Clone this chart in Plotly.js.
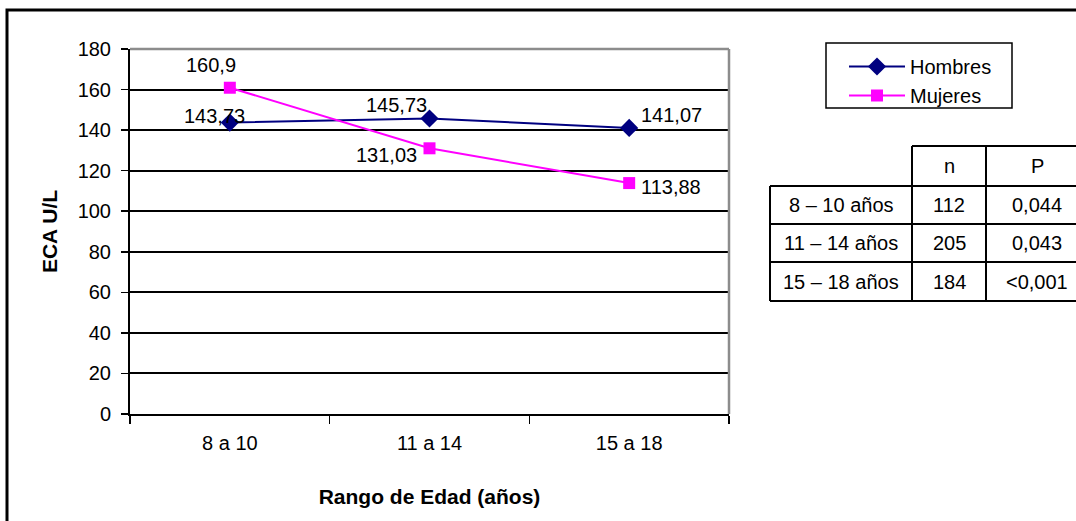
<!DOCTYPE html>
<html>
<head>
<meta charset="utf-8">
<script src="https://cdn.plot.ly/plotly-3.0.1.min.js"></script>
<style>
  html, body { margin: 0; padding: 0; background: #ffffff; }
  #chart { width: 1076px; height: 521px; }
</style>
</head>
<body>
<div id="chart"></div>
<script>
// ECA por rango de edad y sexo
const categories = ['8 a 10', '11 a 14', '15 a 18'];
const hombres = [143.73, 145.73, 141.07];
const mujeres = [160.9, 131.03, 113.88];

// Tabla lateral: tamaño de muestra y significación por grupo
const tableRows = ['8 – 10 años', '11 – 14 años', '15 – 18 años'];
const tableN = ['112', '205', '184'];
const tableP = ['0,044', '0,043', '<0,001'];
const tableHeader = ['n', 'P'];

const W = 1076, H = 521;
const M = { l: 130, r: 347, t: 49, b: 107 };
const plotW = W - M.l - M.r;
const plotH = H - M.t - M.b;
// pixel -> paper coordinates for decorations outside the plot area
const px = x => (x - M.l) / plotW;
const py = y => (H - M.b - y) / plotH;

const FONT = 'Liberation Sans, Arial, Helvetica, sans-serif';
const fmt = v => String(v).replace('.', ',');

const traces = [
  {
    x: categories, y: hombres, name: 'Hombres', type: 'scatter', mode: 'lines+markers',
    line: { color: '#000080', width: 2 },
    marker: { symbol: 'diamond', size: 14, color: '#000080' },
    hoverinfo: 'x+y'
  },
  {
    x: categories, y: mujeres, name: 'Mujeres', type: 'scatter', mode: 'lines+markers',
    line: { color: '#ff00ff', width: 2 },
    marker: { symbol: 'square', size: 12, color: '#ff00ff' },
    hoverinfo: 'x+y'
  }
];

// value label offsets (px) for each point
const hOff = [[-15, 7], [-33, 13], [42, 13]];
const mOff = [[-19, 23], [-43, -7], [42, -4]];

const annotations = [];
hombres.forEach((v, i) => annotations.push({
  x: categories[i], y: v, xref: 'x', yref: 'y', text: fmt(v), showarrow: false,
  xshift: hOff[i][0], yshift: hOff[i][1], font: { family: FONT, size: 20, color: '#000' }
}));
mujeres.forEach((v, i) => annotations.push({
  x: categories[i], y: v, xref: 'x', yref: 'y', text: fmt(v), showarrow: false,
  xshift: mOff[i][0], yshift: mOff[i][1], font: { family: FONT, size: 20, color: '#000' }
}));

// table geometry
const colX = [770, 912, 986, 1088];
const rowY = [146, 186, 224, 262, 301];
const shapes = [];
const ln = (x0, y0, x1, y1, color, width) => shapes.push({
  type: 'line', xref: 'paper', yref: 'paper',
  x0: px(x0), y0: py(y0), x1: px(x1), y1: py(y1),
  line: { color: color, width: width }
});

// outer frame
shapes.push({ type: 'rect', xref: 'paper', yref: 'paper',
  x0: px(7), y0: py(10), x1: px(1100), y1: py(540),
  line: { color: '#000', width: 3 }, layer: 'below' });
// plot area border (top and right)
ln(M.l, M.t, W - M.r, M.t, '#8c8c8c', 2.5);
ln(W - M.r, M.t, W - M.r, H - M.b, '#8c8c8c', 2.5);
// legend frame
shapes.push({ type: 'rect', xref: 'paper', yref: 'paper',
  x0: px(826), y0: py(43), x1: px(1012), y1: py(108),
  line: { color: '#000', width: 1.5 } });
// table grid
ln(colX[1], rowY[0], colX[3], rowY[0], '#000', 2);
for (let r = 1; r < rowY.length; r++) ln(colX[0], rowY[r], colX[3], rowY[r], '#000', 2);
ln(colX[0], rowY[1], colX[0], rowY[4], '#000', 2);
for (let c = 1; c < colX.length; c++) ln(colX[c], rowY[0], colX[c], rowY[4], '#000', 2);

const cellText = (text, cx, cy) => annotations.push({
  x: px(cx), y: py(cy), xref: 'paper', yref: 'paper', text: text, showarrow: false,
  xanchor: 'center', yanchor: 'middle', font: { family: FONT, size: 20, color: '#000' }
});
const colCenter = c => (colX[c] + colX[c + 1]) / 2;
const rowCenter = r => (rowY[r] + rowY[r + 1]) / 2;
tableHeader.forEach((t, c) => cellText(t, colCenter(c + 1), rowCenter(0)));
tableRows.forEach((t, r) => {
  cellText(t, colCenter(0), rowCenter(r + 1));
  cellText(tableN[r], colCenter(1), rowCenter(r + 1));
  cellText(tableP[r], colCenter(2), rowCenter(r + 1));
});

const layout = {
  width: W, height: H,
  margin: M,
  paper_bgcolor: '#ffffff', plot_bgcolor: '#ffffff',
  font: { family: FONT, size: 20, color: '#000' },
  showlegend: true,
  legend: {
    x: px(844), y: py(47), xanchor: 'left', yanchor: 'top',
    bgcolor: 'rgba(0,0,0,0)', borderwidth: 0,
    font: { family: FONT, size: 20, color: '#000' },
    itemwidth: 56, tracegroupgap: 0
  },
  xaxis: {
    type: 'category', range: [-0.5, 2.5],
    showline: true, linecolor: '#000', linewidth: 2,
    ticks: 'outside', tickson: 'boundaries', ticklen: 8, tickcolor: '#000', tickwidth: 1.5,
    ticklabelstandoff: 10,
    showgrid: false, zeroline: false,
    tickfont: { family: FONT, size: 20, color: '#000' },
    title: { text: '<b>Rango de Edad (años)</b>', font: { family: FONT, size: 21, color: '#000' }, standoff: 36 },
    fixedrange: true
  },
  yaxis: {
    range: [0, 180], dtick: 20,
    showline: true, linecolor: '#000', linewidth: 2,
    ticks: 'outside', ticklen: 7, tickcolor: '#000', tickwidth: 1.5,
    ticklabelstandoff: 6,
    showgrid: true, gridcolor: '#000', gridwidth: 2, zeroline: false,
    tickfont: { family: FONT, size: 20, color: '#000' },
    title: { text: '<b>ECA U/L</b>', font: { family: FONT, size: 21, color: '#000' }, standoff: 14 },
    fixedrange: true
  },
  shapes: shapes,
  annotations: annotations
};

Plotly.newPlot('chart', traces, layout, { displayModeBar: false, staticPlot: true });
</script>
</body>
</html>
